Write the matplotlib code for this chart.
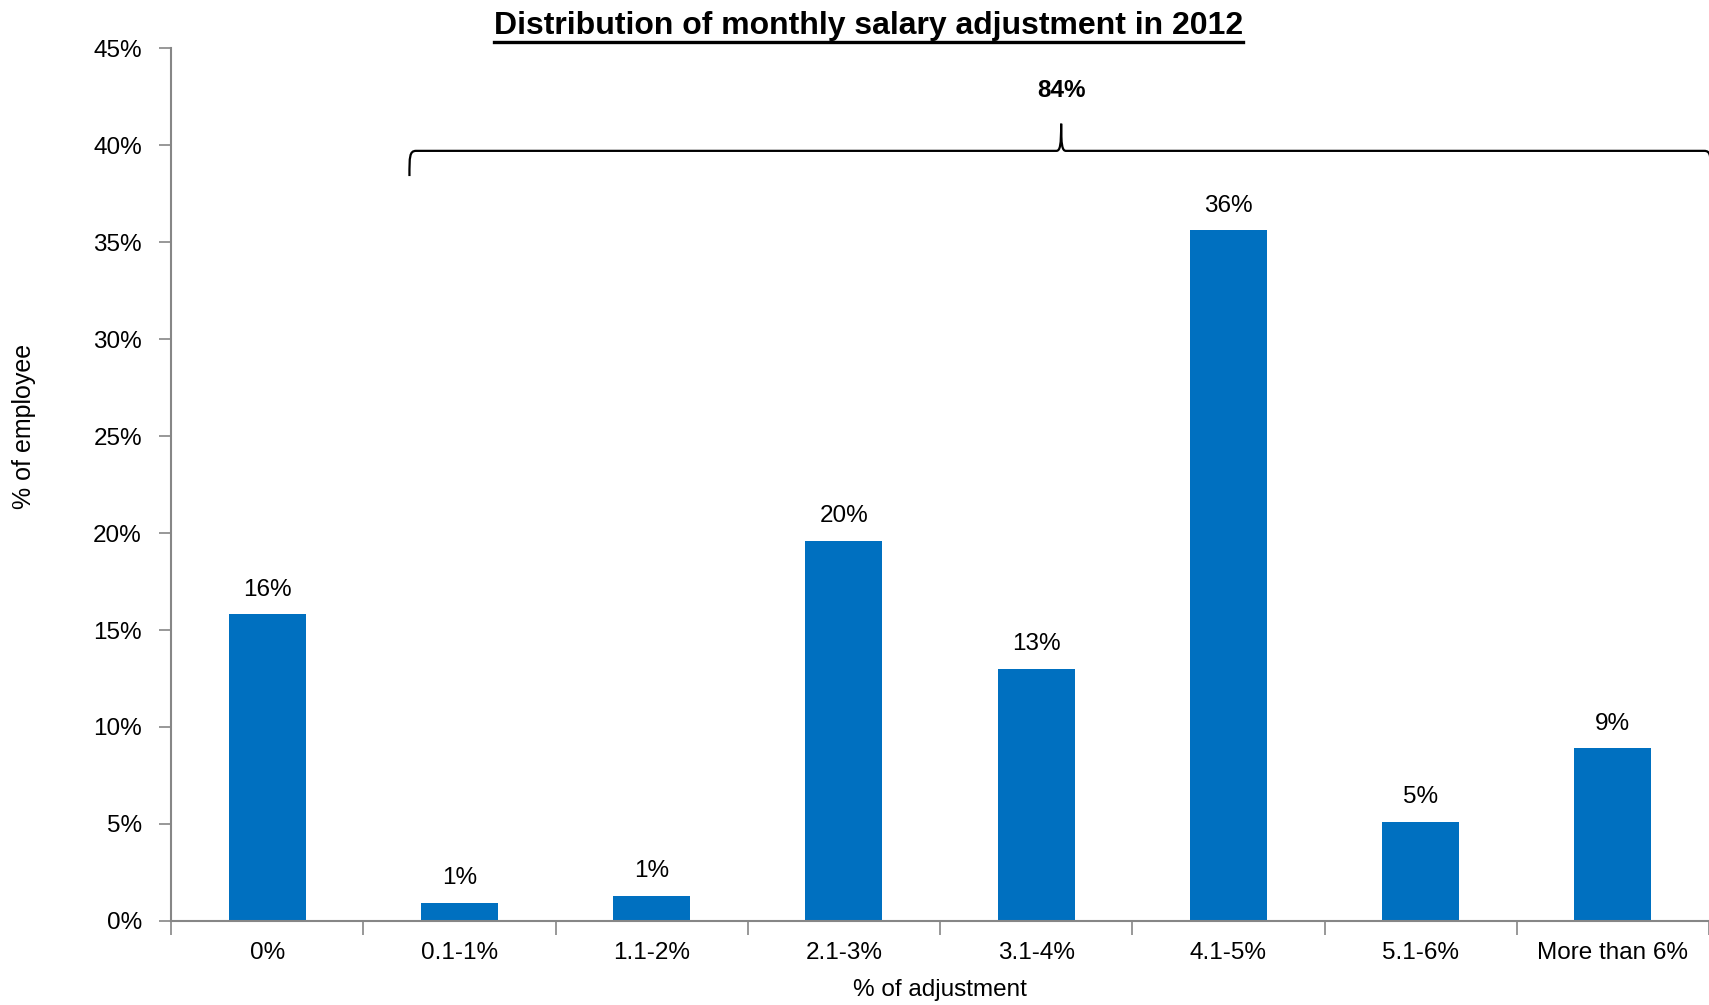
import matplotlib
matplotlib.use("Agg")
import matplotlib.pyplot as plt
from matplotlib.path import Path
from matplotlib.patches import PathPatch
from matplotlib.lines import Line2D
from matplotlib.ticker import FuncFormatter, FixedLocator

categories = ["0%", "0.1-1%", "1.1-2%", "2.1-3%", "3.1-4%", "4.1-5%", "5.1-6%", "More than 6%"]
values = [15.8, 0.95, 1.3, 19.6, 13.0, 35.6, 5.1, 8.9]
labels = ["16%", "1%", "1%", "20%", "13%", "36%", "5%", "9%"]
brace_label = "84%"

plt.rcParams["font.family"] = ["Liberation Sans", "DejaVu Sans"]
blue = "#0070C0"
axis_grey = "#868686"

fig = plt.figure(figsize=(17.09, 10.05), dpi=100)
ax = fig.add_axes([0.1001, 0.0836, 0.8999, 0.8686])

x = range(len(categories))
ax.bar(x, values, width=0.4, color=blue, zorder=2)
for xi, v, lab in zip(x, values, labels):
    ax.text(xi, v + 0.7, lab, ha="center", va="bottom", fontsize=17.5)

ax.set_xlim(-0.5, len(categories) - 0.5)
ax.set_ylim(0, 45)
ax.set_yticks(range(0, 46, 5))
ax.yaxis.set_major_formatter(FuncFormatter(lambda v, _: f"{v:.0f}%"))
ax.set_xticks(list(x))
ax.set_xticklabels(categories, fontsize=17.5)
ax.xaxis.set_minor_locator(FixedLocator([i - 0.5 for i in range(len(categories) + 1)]))
ax.tick_params(axis="x", which="major", length=0, pad=15)
ax.tick_params(axis="x", which="minor", length=10, width=1.2, color=axis_grey)
ax.tick_params(axis="y", length=9, width=1.2, color=axis_grey, pad=12, labelsize=17.5)

for side in ("top", "right"):
    ax.spines[side].set_visible(False)
for side in ("left", "bottom"):
    ax.spines[side].set_color(axis_grey)
    ax.spines[side].set_linewidth(1.5)

ax.set_xlabel("% of adjustment", fontsize=17.5)
ax.xaxis.set_label_coords(0.5, -0.066)
ax.set_ylabel("% of employee", fontsize=18)
ax.yaxis.set_label_coords(-0.088, 0.567)

# curly brace over the non-zero adjustment groups
x0, x1, xt = 0.74, 7.51, 4.13
yb, ym, yt, yl = 38.4, 39.7, 41.1, 38.4
dx, dt = 0.035, 0.025
verts = [
    (x0, yb), (x0, ym - 0.3), (x0, ym), (x0 + dx, ym),
    (xt - dt, ym),
    (xt - 0.005, ym), (xt, ym + 0.3), (xt, yt),
    (xt, ym + 0.3), (xt + 0.005, ym), (xt + dt, ym),
    (x1 - dx, ym),
    (x1, ym), (x1, ym - 0.3), (x1, yl),
]
codes = [Path.MOVETO, Path.CURVE4, Path.CURVE4, Path.CURVE4,
         Path.LINETO,
         Path.CURVE4, Path.CURVE4, Path.CURVE4,
         Path.CURVE4, Path.CURVE4, Path.CURVE4,
         Path.LINETO,
         Path.CURVE4, Path.CURVE4, Path.CURVE4]
ax.add_patch(PathPatch(Path(verts, codes), fill=False, lw=1.6, color="black", clip_on=False))
ax.text(xt, 42.8, brace_label, ha="center", va="center", fontsize=17.5, fontweight="bold")

title = fig.text(0.508, 0.974, "Distribution of monthly salary adjustment in 2012",
                 ha="center", va="center", fontsize=23, fontweight="bold")

# underline the title
fig.canvas.draw()
bb = title.get_window_extent().transformed(fig.transFigure.inverted())
fig.add_artist(Line2D([bb.x0, bb.x1], [bb.y0 - 0.001, bb.y0 - 0.001],
                      transform=fig.transFigure, color="black", lw=2.4))

fig.savefig("out.png", dpi=100)
